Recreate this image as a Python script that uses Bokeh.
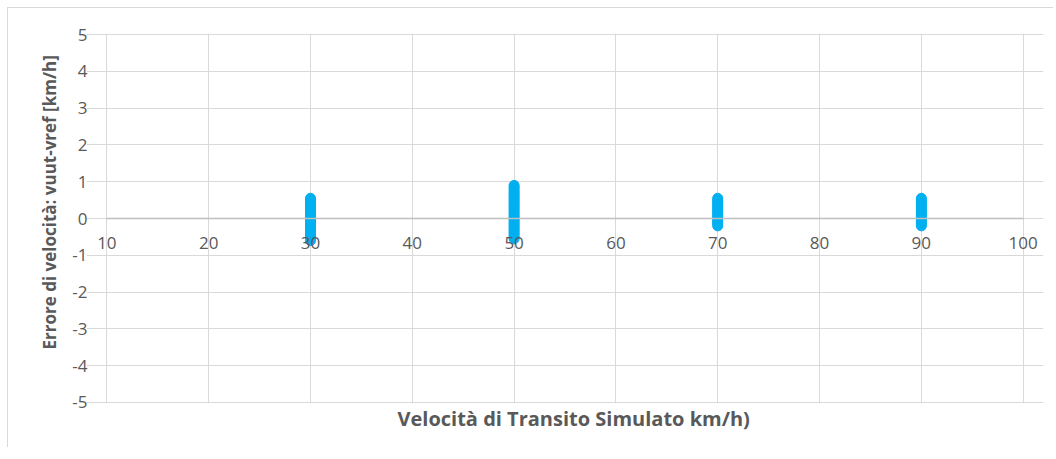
from bokeh.plotting import figure
from bokeh.models import Range1d, FixedTicker, Title
from bokeh.embed import file_html
from bokeh.resources import INLINE

# ---- data ----
x_ticks = [10, 20, 30, 40, 50, 60, 70, 80, 90, 100]
y_ticks = [-5, -4, -3, -2, -1, 0, 1, 2, 3, 4, 5]

err_30 = [0.55, 0.5, 0.45, 0.4, 0.35, 0.3, 0.25, 0.2, 0.15, 0.1, 0.05, 0.0,
          -0.05, -0.1, -0.15, -0.2, -0.25, -0.3, -0.35, -0.4, -0.45, -0.5, -0.55, -0.6]
err_50 = [0.9, 0.85, 0.8, 0.75, 0.7, 0.65, 0.6, 0.55, 0.5, 0.45, 0.4, 0.35, 0.3,
          0.25, 0.2, 0.15, 0.1, 0.05, 0.0, -0.05, -0.1, -0.15, -0.2, -0.25, -0.3,
          -0.35, -0.4, -0.45, -0.5, -0.55]
err_70 = [0.55, 0.5, 0.45, 0.4, 0.35, 0.3, 0.25, 0.2, 0.15, 0.1, 0.05, 0.0,
          -0.05, -0.1, -0.15, -0.2]
err_90 = [0.55, 0.5, 0.45, 0.4, 0.35, 0.3, 0.25, 0.2, 0.15, 0.1, 0.05, 0.0,
          -0.05, -0.1, -0.15, -0.2]
speeds = [30, 50, 70, 90]
errors = [err_30, err_50, err_70, err_90]

x_title = "Velocità di Transito Simulato km/h)"
y_title = "Errore di velocità: vuut-vref [km/h]"

FONT = "Open Sans"
TXT = "#595959"
GRID = "#d9d9d9"
BLUE = "#00b0f0"

# frame is slightly larger than the 10..100 / -5..5 area so edge labels and lines are not clipped
p = figure(frame_width=957, frame_height=370,
           min_border_left=78, min_border_top=25, min_border_right=10, min_border_bottom=44,
           x_range=Range1d(8, 102), y_range=Range1d(-5.03, 5.03),
           output_backend="svg", toolbar_location=None)
p.styles = {"border-top": "1px solid #d9d9d9", "border-left": "1px solid #d9d9d9",
            "margin": "7px 0 0 7px"}
p.outline_line_color = None

xs, ys = [], []
for s, e in zip(speeds, errors):
    xs += [s] * len(e)
    ys += e
p.scatter(xs, ys, size=10, marker="circle", fill_color=BLUE, line_color=BLUE)

p.xaxis.ticker = FixedTicker(ticks=x_ticks)
p.yaxis.ticker = FixedTicker(ticks=y_ticks)
p.xgrid.grid_line_color = GRID
p.ygrid.grid_line_color = GRID
p.xgrid.bounds = (-5, 5)
p.ygrid.bounds = (10, 100)

xa = p.xaxis[0]
xa.fixed_location = 0
xa.bounds = (10, 100)
xa.axis_line_color = "#bfbfbf"
xa.axis_line_width = 1.5
xa.major_tick_line_color = None
xa.minor_tick_line_color = None
xa.major_label_text_font = FONT
xa.major_label_text_font_size = "17px"
xa.major_label_text_color = TXT
xa.major_label_standoff = 12

ya = p.yaxis[0]
ya.axis_line_color = None
ya.major_tick_line_color = None
ya.minor_tick_line_color = None
ya.major_label_text_font = FONT
ya.major_label_text_font_size = "17px"
ya.major_label_text_color = TXT
ya.major_label_standoff = -7
ya.major_label_overrides = {t: str(t) for t in y_ticks}

p.add_layout(Title(text=y_title, align="left", offset=54, standoff=17, text_font=FONT,
                   text_font_size="17px", text_font_style="bold", text_color=TXT), "left")
p.add_layout(Title(text=x_title, align="left", offset=311, standoff=-2, text_font=FONT,
                   text_font_size="20px", text_font_style="bold", text_color=TXT), "below")

open("out.html", "w").write(file_html(p, INLINE))
